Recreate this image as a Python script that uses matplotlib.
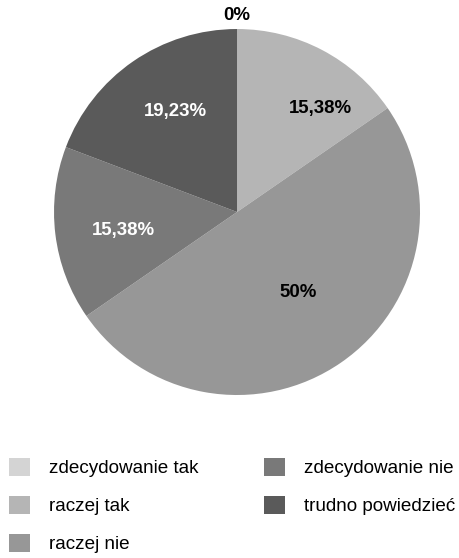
import numpy as np
import matplotlib
matplotlib.use("Agg")
import matplotlib.pyplot as plt
from matplotlib.patches import Patch

plt.rcParams['font.family'] = ['Liberation Sans', 'DejaVu Sans']

# answers (number of respondents)
categories = ['zdecydowanie tak', 'raczej tak', 'raczej nie',
              'zdecydowanie nie', 'trudno powiedzieć']
counts = [0, 4, 13, 4, 5]
colors = ['#d4d4d4', '#b5b5b5', '#979797', '#797979', '#5a5a5a']
label_colors = ['black', 'black', 'black', 'white', 'white']


def fmt_pct(p):
    s = f"{p:.2f}".rstrip('0').rstrip('.')
    return s.replace('.', ',') + '%'


fig = plt.figure(figsize=(4.6, 5.58), dpi=100)
ax = fig.add_axes([0.1174, 0.2921, 0.7957, 0.6559])

wedges, _ = ax.pie(counts, colors=colors, startangle=90, counterclock=False,
                   radius=1.0, wedgeprops=dict(linewidth=0))
ax.set_xlim(-1, 1)
ax.set_ylim(-1, 1)
ax.set_aspect('equal')
ax.axis('off')

# label placement: radius and angle shift (deg) per slice
label_r = [1.075, 0.725, 0.553, 0.628, 0.642]
label_shift = [0, -11.3, 2.8, 2.4, -3.1]

total = sum(counts)
for i, w in enumerate(wedges):
    mid = np.deg2rad((w.theta1 + w.theta2) / 2 + label_shift[i])
    x = label_r[i] * np.cos(mid)
    y = label_r[i] * np.sin(mid)
    ax.text(x, y, fmt_pct(counts[i] / total * 100), ha='center', va='center',
            fontsize=13.4, fontweight='bold', color=label_colors[i])

handles = [Patch(facecolor=c, edgecolor='none') for c in colors]
fig.legend(handles, categories, loc='upper left', ncol=2,
           bbox_to_anchor=(0.02, 0.179), frameon=False, fontsize=13.6,
           handlelength=1.1, handleheight=1.07, handletextpad=1.0,
           columnspacing=3.5, labelspacing=0.98, borderpad=0,
           borderaxespad=0)

fig.savefig('out.png', dpi=100)
